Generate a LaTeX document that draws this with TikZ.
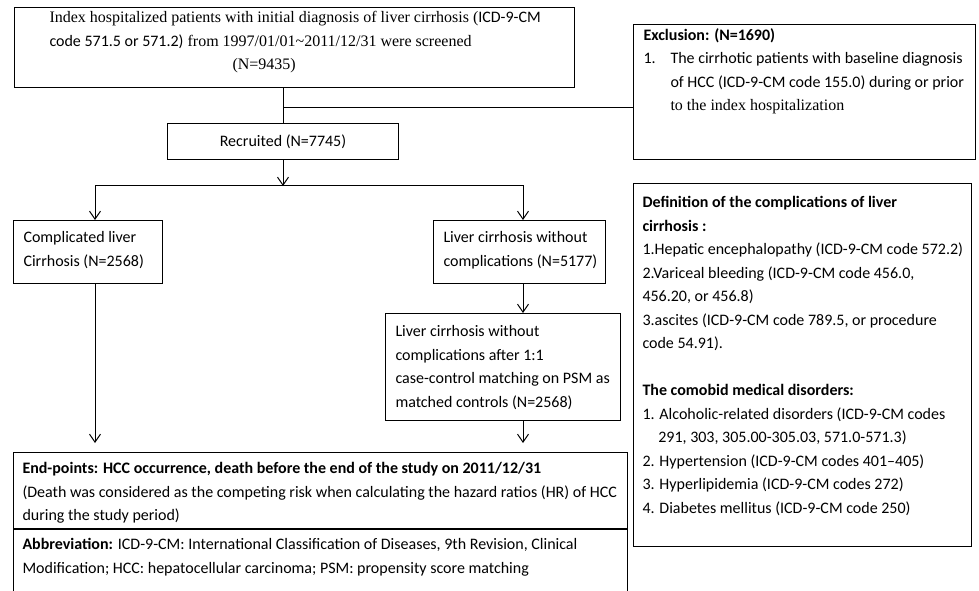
\documentclass[tikz,border=0pt]{standalone}
\usepackage{fontspec}
\setmainfont{Carlito}
\newfontfamily\tnr{Liberation Serif}
\usetikzlibrary{arrows.meta,positioning}

\newcommand{\txtfont}{\fontsize{16pt}{23.5pt}\selectfont}

\tikzset{
  blk/.style={draw, line width=1pt, inner sep=0pt},
  lbl/.style={anchor=north west, align=left, inner sep=0pt, font=\txtfont},
  arr/.style={-{Straight Barb[length=8pt,width=11pt]}, line width=1pt},
}

\begin{document}
\begin{tikzpicture}[x=1pt, y=-1pt, line width=1pt]
\useasboundingbox (0,0) rectangle (979,590);
\clip (0,0) rectangle (979,590);

% screened patients
\coordinate(O1) at (14,7);
\node[below right=0pt of O1, blk, minimum width=560pt, minimum height=80pt](screen){};
\node[lbl](screentxt) at (49,11) {{\tnr Index hospitalized patients with initial diagnosis of liver cirrhosis (}ICD-9-CM\\
code 571.5 or 571.2){\tnr\ from 1997/01/01\textasciitilde 2011/12/31 were screened}\\
\hspace*{183pt}{\tnr (N=9435)}};

% exclusion
\coordinate(O1) at (633,24);
\node[below right=0pt of O1, blk, minimum width=342pt, minimum height=135pt](excl){};
\node[lbl](excltxt) at (643,28) {\textbf{Exclusion: (N=1690)}\\
\makebox[27pt][l]{1.}The cirrhotic patients with baseline diagnosis\\
\hspace*{27pt}of HCC (ICD-9-CM code 155.0) during or prior\\
\hspace*{27pt}{\tnr to the index hospitalization}};

% recruited
\coordinate(O1) at (167,123);
\node[below right=0pt of O1, blk, minimum width=231pt, minimum height=36pt, font=\txtfont](recr){Recruited (N=7745)};

% two groups
\coordinate(O1) at (13,220);
\node[below right=0pt of O1, blk, minimum width=149pt, minimum height=63pt](comp){};
\node[lbl](comptxt) at (23,231) {Complicated liver\\Cirrhosis (N=2568)};

\coordinate(O1) at (433,220);
\node[below right=0pt of O1, blk, minimum width=172pt, minimum height=63pt](nocomp){};
\node[lbl](nocomptxt) at (443,231) {Liver cirrhosis without\\complications (N=5177)};

\coordinate(O1) at (385,313);
\node[below right=0pt of O1, blk, minimum width=235pt, minimum height=107pt](match){};
\node[lbl](matchtxt) at (395,325) {Liver cirrhosis without\\complications after 1:1\\case-control matching on PSM as\\matched controls (N=2568)};

% end-points and abbreviations
\coordinate(O1) at (13,452);
\node[below right=0pt of O1, blk, minimum width=614pt, minimum height=76pt](endpt){};
\node[lbl](endtxt) at (22,462) {\textbf{End-points: HCC occurrence, death before the end of the study on 2011/12/31}\\
(Death was considered as the competing risk when calculating the hazard ratios (HR) of HCC\\
during the study period)};
\node[below=0pt of endpt, blk, minimum width=614pt, minimum height=100pt](abbr){};
\node[lbl](abbrtxt) at (22,538) {\textbf{Abbreviation:} ICD-9-CM: International Classification of Diseases, 9th Revision, Clinical\\
Modification; HCC: hepatocellular carcinoma; PSM: propensity score matching};

% definitions
\coordinate(O1) at (633,183);
\node[below right=0pt of O1, blk, minimum width=338pt, minimum height=363pt](defs){};
\node[lbl](defstxt) at (642,196) {\textbf{Definition of the complications of liver}\\
\textbf{cirrhosis :}\\
1.Hepatic encephalopathy (ICD-9-CM code 572.2)\\
2.Variceal bleeding (ICD-9-CM code 456.0,\\
456.20, or 456.8)\\
3.ascites (ICD-9-CM code 789.5, or procedure\\
code 54.91).\\
\mbox{}\\
\textbf{The comobid medical disorders:}\\
1. Alcoholic-related disorders (ICD-9-CM codes\\
\hspace*{15.8pt}291, 303, 305.00-305.03, 571.0-571.3)\\
2. Hypertension (ICD-9-CM codes 401--405)\\
3. Hyperlipidemia (ICD-9-CM codes 272)\\
4. Diabetes mellitus (ICD-9-CM code 250)};

% connectors
\coordinate (exj) at ([yshift=16pt]recr.north);
\coordinate (split) at ([yshift=-26pt]recr.south);
\coordinate (sl) at (95,185);
\coordinate (sr) at (523,185);
\draw (screen.south -| recr.north) -- (recr.north);
\draw (exj) -- (exj -| excl.west);
\draw[arr] (recr.south) -- (split);
\draw (sl) -- (sr);
\draw[arr] (sl) -- (sl |- comp.north);
\draw[arr] (sr) -- (sr |- nocomp.north);
\draw[arr] (sr |- nocomp.south) -- (sr |- match.north);
\draw[arr, shorten >=9pt] (sl |- comp.south) -- (sl |- endpt.north);
\draw[arr, shorten >=9pt] (sr |- match.south) -- (sr |- endpt.north);
\end{tikzpicture}
\end{document}
